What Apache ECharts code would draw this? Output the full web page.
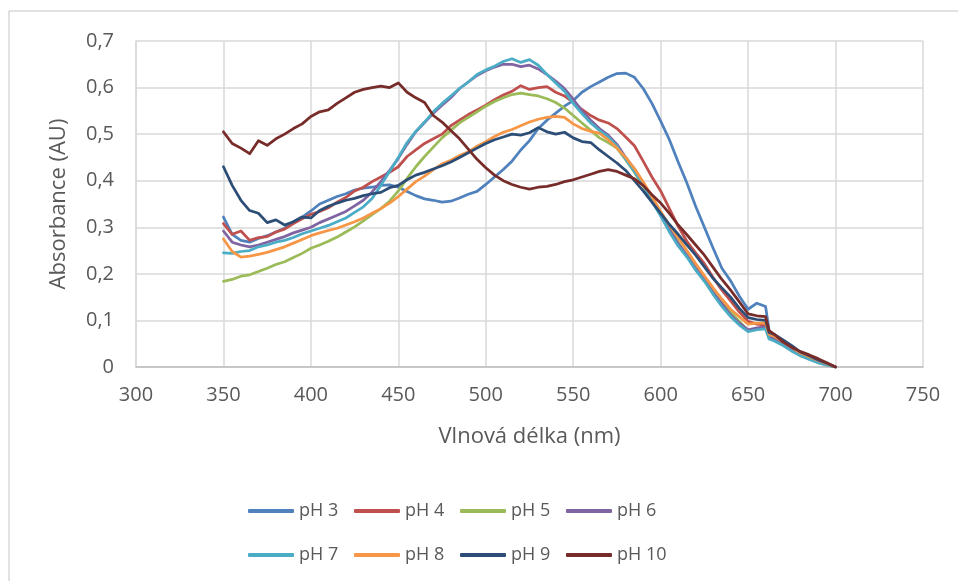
<!DOCTYPE html>
<html>
<head>
<meta charset="utf-8">
<script src="https://cdn.jsdelivr.net/npm/echarts@6/dist/echarts.min.js"></script>
<style>
  html, body { margin: 0; padding: 0; background: #ffffff; }
  #chart { width: 958px; height: 581px; }
</style>
</head>
<body>
<div id="chart"></div>
<script>
// Wavelengths (nm) of the sampled spectra; extra point at 662 nm captures the step near 660 nm
const wavelengths = [
  350, 355, 360, 365, 370, 375, 380, 385, 390, 395,
  400, 405, 410, 415, 420, 425, 430, 435, 440, 445,
  450, 455, 460, 465, 470, 475, 480, 485, 490, 495,
  500, 505, 510, 515, 520, 525, 530, 535, 540, 545,
  550, 555, 560, 565, 570, 575, 580, 585, 590, 595,
  600, 605, 610, 615, 620, 625, 630, 635, 640, 645,
  650, 655, 660, 662, 665, 670, 675, 680, 685, 690, 695, 700
];

// Absorbance (AU) per pH
const pH3 = [
  0.322, 0.285, 0.272, 0.268, 0.276, 0.282, 0.290, 0.298, 0.312, 0.322,
  0.335, 0.350, 0.358, 0.366, 0.372, 0.380, 0.384, 0.386, 0.390, 0.391,
  0.386, 0.377, 0.368, 0.361, 0.358, 0.354, 0.356, 0.363, 0.371, 0.377,
  0.392, 0.408, 0.424, 0.442, 0.466, 0.486, 0.512, 0.530, 0.545, 0.560,
  0.572, 0.590, 0.602, 0.612, 0.622, 0.630, 0.631, 0.622, 0.598, 0.566,
  0.528, 0.488, 0.440, 0.395, 0.345, 0.300, 0.255, 0.212, 0.185, 0.152,
  0.124, 0.137, 0.130, 0.078, 0.068, 0.056, 0.044, 0.030, 0.024, 0.014, 0.007, 0.000
];
const pH4 = [
  0.308, 0.285, 0.292, 0.272, 0.278, 0.280, 0.290, 0.296, 0.308, 0.318,
  0.328, 0.334, 0.342, 0.354, 0.364, 0.378, 0.386, 0.398, 0.408, 0.418,
  0.430, 0.452, 0.466, 0.480, 0.490, 0.500, 0.518, 0.530, 0.542, 0.552,
  0.562, 0.574, 0.584, 0.592, 0.604, 0.596, 0.600, 0.602, 0.590, 0.582,
  0.568, 0.553, 0.540, 0.530, 0.524, 0.512, 0.494, 0.475, 0.442, 0.408,
  0.378, 0.340, 0.302, 0.270, 0.245, 0.222, 0.192, 0.165, 0.142, 0.118,
  0.098, 0.092, 0.090, 0.070, 0.066, 0.054, 0.042, 0.030, 0.022, 0.014, 0.007, 0.000
];
const pH5 = [
  0.184, 0.188, 0.195, 0.198, 0.205, 0.212, 0.220, 0.226, 0.235, 0.244,
  0.255, 0.262, 0.270, 0.279, 0.290, 0.301, 0.314, 0.327, 0.340, 0.356,
  0.378, 0.405, 0.430, 0.452, 0.472, 0.492, 0.508, 0.524, 0.536, 0.548,
  0.560, 0.570, 0.578, 0.585, 0.588, 0.585, 0.582, 0.576, 0.568, 0.556,
  0.540, 0.524, 0.508, 0.492, 0.482, 0.470, 0.445, 0.418, 0.388, 0.360,
  0.330, 0.298, 0.268, 0.240, 0.218, 0.192, 0.165, 0.140, 0.118, 0.098,
  0.078, 0.082, 0.084, 0.062, 0.058, 0.048, 0.036, 0.024, 0.018, 0.010, 0.005, 0.000
];
const pH6 = [
  0.292, 0.268, 0.262, 0.258, 0.262, 0.268, 0.274, 0.280, 0.288, 0.294,
  0.300, 0.310, 0.318, 0.326, 0.334, 0.346, 0.358, 0.376, 0.398, 0.422,
  0.448, 0.478, 0.505, 0.525, 0.545, 0.562, 0.578, 0.598, 0.612, 0.626,
  0.636, 0.644, 0.650, 0.650, 0.645, 0.648, 0.640, 0.628, 0.614, 0.598,
  0.575, 0.550, 0.530, 0.512, 0.498, 0.478, 0.450, 0.425, 0.395, 0.360,
  0.330, 0.295, 0.265, 0.240, 0.212, 0.188, 0.160, 0.136, 0.112, 0.094,
  0.080, 0.084, 0.086, 0.064, 0.060, 0.048, 0.036, 0.026, 0.018, 0.011, 0.005, 0.000
];
const pH7 = [
  0.245, 0.244, 0.248, 0.250, 0.258, 0.262, 0.268, 0.272, 0.278, 0.286,
  0.292, 0.298, 0.304, 0.312, 0.320, 0.332, 0.344, 0.362, 0.390, 0.420,
  0.450, 0.482, 0.506, 0.526, 0.548, 0.566, 0.582, 0.598, 0.612, 0.628,
  0.638, 0.646, 0.656, 0.662, 0.654, 0.660, 0.648, 0.628, 0.610, 0.592,
  0.566, 0.544, 0.524, 0.508, 0.494, 0.474, 0.446, 0.420, 0.392, 0.356,
  0.324, 0.290, 0.260, 0.236, 0.208, 0.184, 0.156, 0.130, 0.108, 0.090,
  0.076, 0.080, 0.082, 0.060, 0.056, 0.046, 0.034, 0.024, 0.016, 0.009, 0.004, 0.000
];
const pH8 = [
  0.275, 0.248, 0.236, 0.238, 0.242, 0.246, 0.252, 0.258, 0.266, 0.274,
  0.282, 0.288, 0.293, 0.298, 0.305, 0.312, 0.320, 0.330, 0.340, 0.352,
  0.366, 0.382, 0.398, 0.410, 0.424, 0.436, 0.444, 0.454, 0.462, 0.474,
  0.484, 0.495, 0.504, 0.510, 0.518, 0.526, 0.532, 0.536, 0.538, 0.536,
  0.522, 0.512, 0.506, 0.502, 0.488, 0.470, 0.450, 0.426, 0.398, 0.366,
  0.334, 0.305, 0.278, 0.250, 0.222, 0.196, 0.170, 0.146, 0.124, 0.108,
  0.092, 0.094, 0.094, 0.070, 0.066, 0.054, 0.042, 0.030, 0.022, 0.014, 0.007, 0.000
];
const pH9 = [
  0.430, 0.390, 0.358, 0.336, 0.330, 0.310, 0.316, 0.305, 0.312, 0.322,
  0.320, 0.336, 0.345, 0.352, 0.358, 0.362, 0.368, 0.372, 0.375, 0.385,
  0.390, 0.402, 0.412, 0.418, 0.425, 0.432, 0.440, 0.450, 0.460, 0.470,
  0.480, 0.488, 0.494, 0.500, 0.498, 0.503, 0.514, 0.505, 0.500, 0.504,
  0.492, 0.484, 0.482, 0.466, 0.452, 0.438, 0.422, 0.400, 0.378, 0.354,
  0.330, 0.306, 0.285, 0.262, 0.240, 0.215, 0.190, 0.170, 0.150, 0.126,
  0.106, 0.102, 0.100, 0.074, 0.070, 0.058, 0.046, 0.032, 0.024, 0.015, 0.008, 0.000
];
const pH10 = [
  0.505, 0.480, 0.470, 0.458, 0.486, 0.476, 0.490, 0.500, 0.512, 0.522,
  0.538, 0.548, 0.552, 0.566, 0.578, 0.590, 0.596, 0.600, 0.603, 0.600,
  0.610, 0.590, 0.578, 0.568, 0.540, 0.526, 0.508, 0.490, 0.468, 0.446,
  0.428, 0.412, 0.400, 0.392, 0.386, 0.382, 0.386, 0.388, 0.392, 0.398,
  0.402, 0.408, 0.414, 0.420, 0.424, 0.420, 0.412, 0.404, 0.390, 0.370,
  0.352, 0.330, 0.305, 0.284, 0.262, 0.240, 0.214, 0.188, 0.165, 0.140,
  0.114, 0.110, 0.108, 0.078, 0.070, 0.054, 0.042, 0.033, 0.026, 0.018, 0.009, 0.000
];

const seriesNames = ['pH 3', 'pH 4', 'pH 5', 'pH 6', 'pH 7', 'pH 8', 'pH 9', 'pH 10'];
const seriesValues = [pH3, pH4, pH5, pH6, pH7, pH8, pH9, pH10];
const seriesColors = ['#4F81BD', '#C0504D', '#9BBB59', '#8064A2', '#4BACC6', '#F79646', '#2C4D75', '#772C2A'];

// Axis tick labels (decimal comma)
const yTickLabels = ['0', '0,1', '0,2', '0,3', '0,4', '0,5', '0,6', '0,7'];
const xTickLabels = ['300', '350', '400', '450', '500', '550', '600', '650', '700', '750'];

const textColor = '#595959';
const font = 'Open Sans';

const chart = echarts.init(document.getElementById('chart'), null, { renderer: 'canvas' });

const series = seriesNames.map((name, k) => ({
  name: name,
  type: 'line',
  showSymbol: false,
  symbol: 'none',
  animation: false,
  lineStyle: { width: 2.75, color: seriesColors[k], cap: 'round', join: 'round' },
  itemStyle: { color: seriesColors[k] },
  data: wavelengths.map((w, i) => [w, seriesValues[k][i]])
}));

// One legend row of four entries with fixed-width text so columns line up
function legendRow(names, top) {
  return {
    data: names,
    left: 248,
    top: top,
    padding: 0,
    orient: 'horizontal',
    icon: 'roundRect',
    itemWidth: 46,
    itemHeight: 4,
    itemGap: 3,
    textStyle: { color: textColor, fontFamily: font, fontSize: 18, width: 52, lineHeight: 24 }
  };
}

chart.setOption({
  backgroundColor: '#ffffff',
  animation: false,
  grid: { left: 136, right: 35, top: 41, bottom: 214, containLabel: false },
  xAxis: {
    type: 'value',
    min: 300,
    max: 750,
    interval: 50,
    name: 'Vlnová délka (nm)',
    nameLocation: 'middle',
    nameGap: 59,
    nameTextStyle: { color: textColor, fontFamily: font, fontSize: 22 },
    axisLine: { show: true, lineStyle: { color: '#bfbfbf', width: 1.5 } },
    axisTick: { show: false },
    axisLabel: {
      color: textColor, fontFamily: font, fontSize: 20, margin: 18,
      formatter: v => xTickLabels[Math.round((v - 300) / 50)]
    },
    splitLine: { show: true, lineStyle: { color: '#d9d9d9', width: 1.5 } }
  },
  yAxis: {
    type: 'value',
    min: 0,
    max: 0.7,
    interval: 0.1,
    name: 'Absorbance (AU)',
    nameLocation: 'middle',
    nameGap: 66,
    nameTextStyle: { color: textColor, fontFamily: font, fontSize: 22 },
    axisLine: { show: true, lineStyle: { color: '#d9d9d9', width: 1.5 } },
    axisTick: { show: false },
    axisLabel: {
      color: textColor, fontFamily: font, fontSize: 20, margin: 22,
      formatter: v => yTickLabels[Math.round(v * 10)]
    },
    splitLine: { show: true, lineStyle: { color: '#d9d9d9', width: 1.5 } }
  },
  legend: [
    legendRow(['pH 3', 'pH 4', 'pH 5', 'pH 6'], 499),
    legendRow(['pH 7', 'pH 8', 'pH 9', 'pH 10'], 543)
  ],
  graphic: [
    { type: 'line', shape: { x1: 9, y1: 11, x2: 958, y2: 11 }, style: { stroke: '#d9d9d9', lineWidth: 1.5 }, silent: true },
    { type: 'line', shape: { x1: 9, y1: 11, x2: 9, y2: 581 }, style: { stroke: '#d9d9d9', lineWidth: 1.5 }, silent: true }
  ],
  series: series
});
</script>
</body>
</html>
